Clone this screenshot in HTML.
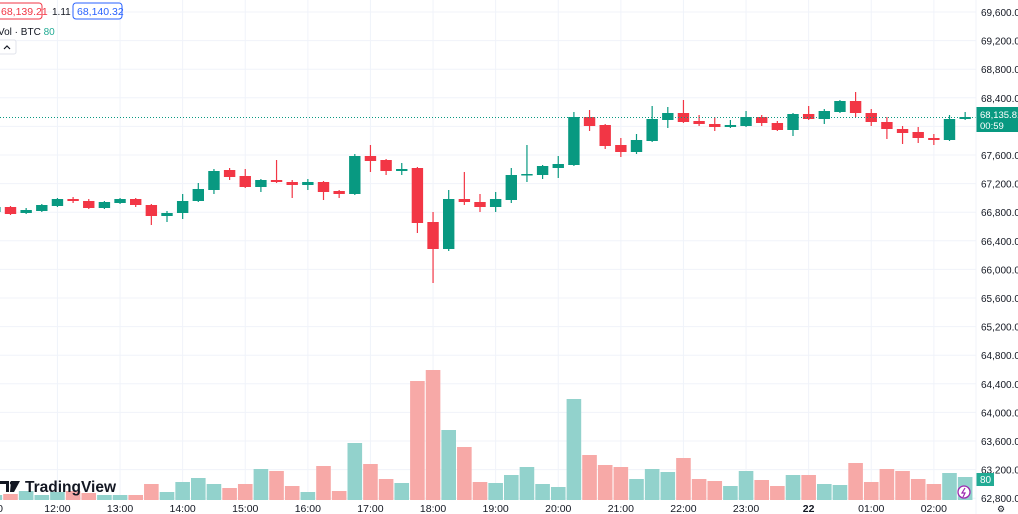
<!DOCTYPE html>
<html><head><meta charset="utf-8"><style>
html,body{margin:0;padding:0;background:#fff;width:1018px;height:514px;overflow:hidden;font-family:"Liberation Sans",sans-serif}
</style></head><body>
<svg id="s" width="1018" height="514" xmlns="http://www.w3.org/2000/svg" style="position:absolute;left:0;top:0"></svg>
<script>
var s=document.getElementById('s'),h='';
var G='#089981',R='#f23645',GV='#92d2cc',RV='#f7a9a7';
for(var k=0;k<18;k++){var y=12+k*28.6;h+='<line x1="0" x2="976" y1="'+y+'" y2="'+y+'" stroke="#f0f3fa" stroke-width="1"/>';}
function X(i){return 10.5+15.65*i;}
var tl=['12:00','13:00','14:00','15:00','16:00','17:00','18:00','19:00','20:00','21:00','22:00','23:00','22','01:00','02:00'];
for(var t=0;t<tl.length;t++){var x=X(3+4*t);h+='<line x1="'+x+'" x2="'+x+'" y1="0" y2="500" stroke="#f0f3fa"/>';
h+='<text x="'+x+'" y="512" font-size="10.5" fill="#131722" text-anchor="middle"'+(tl[t]=='22'?' font-weight="bold"':'')+'>'+tl[t]+'</text>';}
h+='<text x="3" y="512" font-size="10.5" fill="#131722" text-anchor="end">11:00</text>';
var p=69600;for(var k=0;k<18;k++){var y=12+k*28.6;h+='<text x="981" y="'+(y+4)+'" font-size="10" fill="#131722">'+(p/1000|0)+','+String(p%1000).padStart(3,'0')+'.00</text>';p-=400;}
var C=[[207,212,205,213,'g'],
[207,214,206,215,'r'],[210,213,208,214,'g'],[205,211,204,212,'g'],[199,206,198,207,'g'],[199,201,197,203,'r'],[201,208,199,209,'r'],[202,208,201,209,'g'],[199,203,198,204,'g'],[199,205,198,207,'r'],[205,216,204,225,'r'],
[213,216,211,222,'g'],[201,213,194,219,'g'],[189,201,183,202,'g'],[171,190,169,194,'g'],[170,177,168,180,'r'],[176,187,169,188,'r'],[180,187,179,192,'g'],[180,182,160,183,'r'],[182,185,180,198,'r'],[182,185,179,190,'g'],
[182,192,181,200,'r'],[191,194,190,198,'r'],[156,194,154,195,'g'],[156,161,145,172,'r'],[160,171,159,175,'r'],[169,171,163,175,'g'],[168,223,167,233,'r'],[222,249,212,283,'r'],[199,249,190,251,'g'],[199,202,172,205,'r'],
[202,207,194,212,'r'],[199,207,192,212,'g'],[175,200,168,203,'g'],[174,175,145,182,'g'],[166,175,165,179,'g'],[164,168,156,178,'g'],[117,165,112,166,'g'],[117,126,110,131,'r'],[125,146,124,149,'r'],[145,152,138,157,'r'],
[140,152,134,154,'g'],[119,141,106,142,'g'],[113,120,107,128,'g'],[113,122,100,123,'r'],[121,124,115,126,'r'],[124,127,117,131,'r'],[125,127,120,128,'g'],[117,126,111,127,'g'],[117,123,115,126,'r'],[123,130,121,131,'r'],
[114,130,113,136,'g'],[114,119,106,120,'r'],[111,119,109,124,'g'],[101,112,100,113,'g'],[101,113,92,117,'r'],[113,122,109,126,'r'],[122,129,117,139,'r'],[129,133,126,144,'r'],[132,138,127,143,'r'],[138,140,134,145,'r'],
[119,140,115,141,'g'],[117,119,112,120,'g']];
var V=[495,494,491,495,492,491,493,495,495,495,484,492,482,478,484,488,484,469,471,486,492,466,491,443,464,479,483,381,370,430,447,482,483,475,467,484,487,399,455,465,467,479,469,472,458,479,481,486,471,480,486,475,475,484,485,463,482,469,471,479,484,473,477];
for(var j=0;j<C.length;j++){var i=j-1,x=X(i),c=C[j],vc=c[4]=='g'?GV:RV;
h+='<rect x="'+(x-7.3)+'" y="'+V[j]+'" width="14.6" height="'+(500-V[j])+'" fill="'+vc+'"/>';}
for(var j=0;j<C.length;j++){var i=j-1,x=X(i),c=C[j],col=c[4]=='g'?G:R;
h+='<line x1="'+x+'" x2="'+x+'" y1="'+c[2]+'" y2="'+c[3]+'" stroke="'+col+'" stroke-width="1.2"/>';
h+='<rect x="'+(x-5.7)+'" y="'+c[0]+'" width="11.4" height="'+Math.max(1.5,c[1]-c[0])+'" fill="'+col+'"/>';}
h+='<line x1="0" x2="976" y1="117.5" y2="117.5" stroke="'+G+'" stroke-dasharray="1 2" stroke-width="1"/>';
h+='<rect x="976" y="107" width="42" height="25" fill="'+G+'"/><text x="980" y="118" font-size="9.5" fill="#fff">68,135.81</text><text x="980" y="129" font-size="9.5" fill="#fff">00:59</text>';
h+='<rect x="976" y="473" width="18" height="13" fill="#22ab94"/><text x="980" y="483" font-size="10" fill="#fff">80</text>';
h+='<line x1="976" x2="976" y1="0" y2="514" stroke="#f0f3fa"/>';
h+='<circle cx="964" cy="492" r="6" fill="#fff" stroke="#9c27b0" stroke-width="1.3"/><path d="M965 488 L962 493 L965 493 L963 497" stroke="#9c27b0" fill="none" stroke-width="1.2"/>';
h+='<text x="1001" y="512" font-size="9" fill="#131722" text-anchor="middle">⚙</text>';
h+='<path d="M0 481 H9 V492 H6 V484 H0Z M11 481 H20 L14 492 H10Z" fill="#131722"/><circle cx="11.5" cy="483" r="1.6" fill="#131722"/>';
h+='<text x="25" y="492" font-size="15.5" font-weight="bold" fill="#131722">TradingView</text>';
h+='<rect x="-4" y="3" width="46" height="16" rx="3" fill="#fff" stroke="#f23645"/><text x="1" y="15" font-size="10.5" fill="#f23645">68,139.21</text>';
h+='<text x="52" y="15" font-size="10" fill="#131722">1.11</text>';
h+='<rect x="73" y="3" width="49" height="16" rx="3" fill="#fff" stroke="#2962ff"/><text x="77" y="15" font-size="10.5" fill="#2962ff">68,140.32</text>';
h+='<text x="-2" y="35" font-size="10" fill="#131722">Vol · BTC <tspan fill="#22ab94">80</tspan></text>';
h+='<rect x="-4" y="40" width="20" height="14" rx="2" fill="#fff" stroke="#e0e3eb"/><path d="M4 49 L7 46 L10 49" stroke="#131722" fill="none" stroke-width="1.2"/>';
s.innerHTML=h;
</script>
</body></html>
